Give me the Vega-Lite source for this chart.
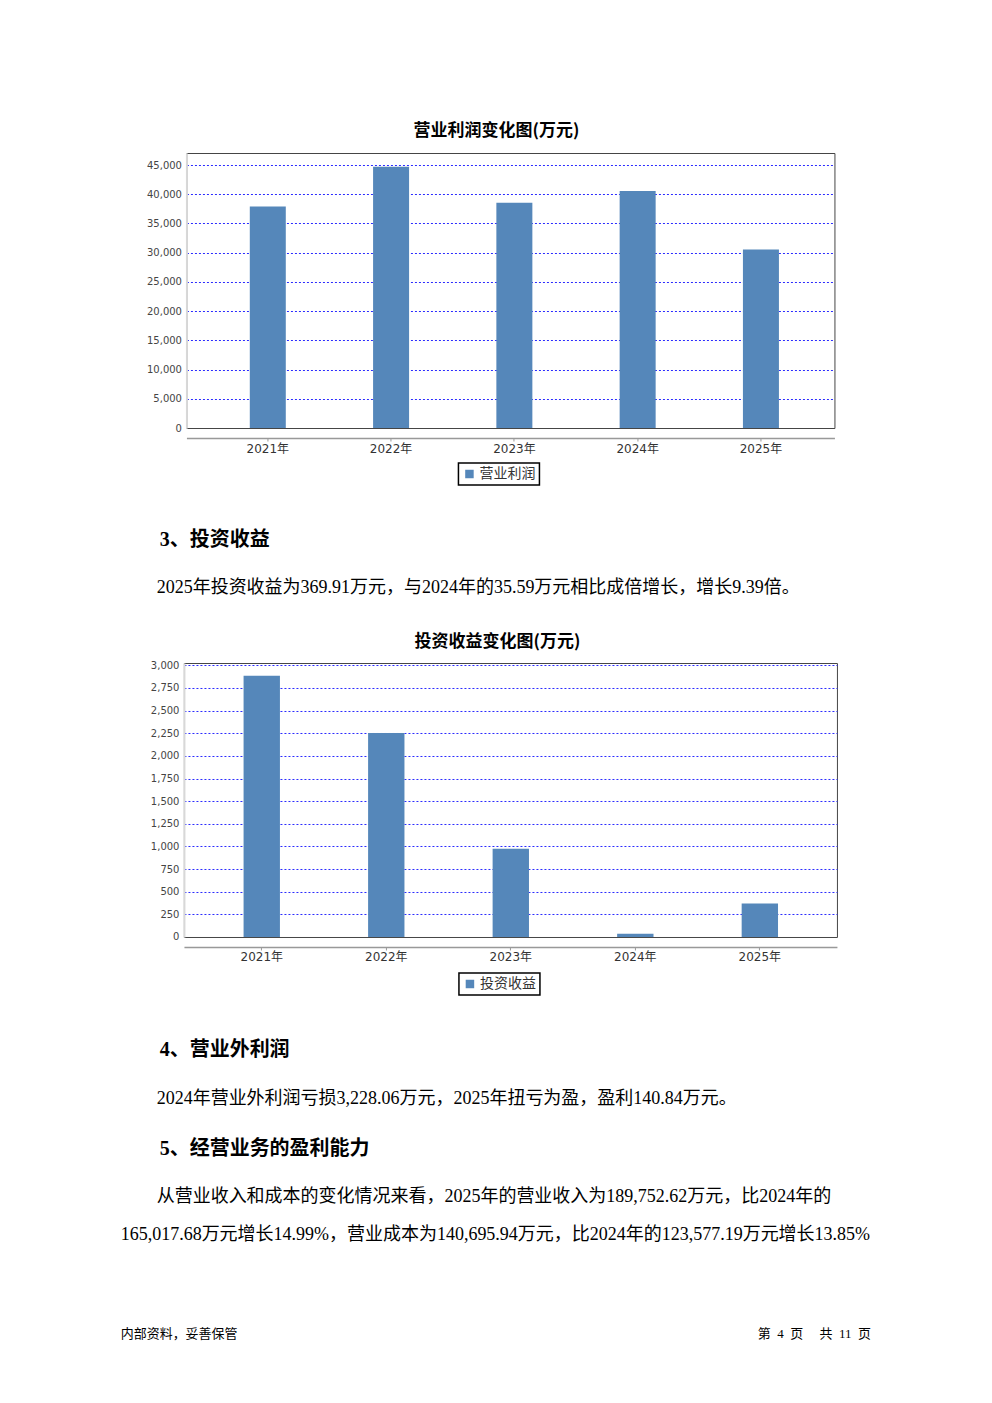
{
  "$schema": "https://vega.github.io/schema/vega-lite/v6.json",
  "background": "#ffffff",
  "padding": {"left": 120.7, "top": 121, "right": 0, "bottom": 0},
  "spacing": 0,
  "center": true,
  "bounds": "full",
  "resolve": {
    "scale": {"x": "independent", "y": "independent", "color": "independent"},
    "legend": {"color": "independent"}
  },
  "config": {
    "view": {"stroke": null},
    "legend": {
      "direction": "horizontal",
      "symbolType": "square",
      "symbolSize": 72,
      "symbolStrokeWidth": 0,
      "labelFont": "DejaVu Sans, Noto Sans CJK SC",
      "labelFontSize": 14,
      "labelColor": "#333333",
      "labelOffset": 3,
      "strokeColor": "#000000",
      "strokeWidth": 1.5,
      "fillColor": "#ffffff",
      "padding": 4
    }
  },
  "datasets": {
    "profit": [
      {"year": "2021年", "value": 37900},
      {"year": "2022年", "value": 44700},
      {"year": "2023年", "value": 38550},
      {"year": "2024年", "value": 40550},
      {"year": "2025年", "value": 30550}
    ],
    "invest": [
      {"year": "2021年", "value": 2885},
      {"year": "2022年", "value": 2254},
      {"year": "2023年", "value": 975},
      {"year": "2024年", "value": 35.59},
      {"year": "2025年", "value": 369.91}
    ],
    "p1": [
      {"line": 1, "role": "heading", "text": "3、投资收益"},
      {"line": 2, "role": "body", "text": "2025年投资收益为369.91万元，与2024年的35.59万元相比成倍增长，增长9.39倍。"}
    ],
    "p2": [
      {"line": 1, "role": "heading", "text": "4、营业外利润"},
      {"line": 2, "role": "body", "text": "2024年营业外利润亏损3,228.06万元，2025年扭亏为盈，盈利140.84万元。"},
      {"line": 3, "role": "heading", "text": "5、经营业务的盈利能力"},
      {"line": 4, "role": "body", "text": "从营业收入和成本的变化情况来看，2025年的营业收入为189,752.62万元，比2024年的"},
      {"line": 4, "role": "cont", "text": "165,017.68万元增长14.99%，营业成本为140,695.94万元，比2024年的123,577.19万元增长13.85%"}
    ],
    "footer": [
      {"role": "left", "text": "内部资料，妥善保管"},
      {"role": "right", "text": "第\u00a0\u00a04\u00a0\u00a0页\u3000\u00a0共\u00a0\u00a011\u00a0\u00a0页"}
    ]
  },
  "vconcat": [
    {
      "width": 648,
      "height": 275,
      "data": {"name": "profit"},
      "title": {"text": "营业利润变化图(万元)", "font": "Noto Sans CJK SC", "fontSize": 17, "fontWeight": "bold", "color": "#000000", "anchor": "middle", "frame": "group", "baseline": "bottom", "offset": -4, "dx": -14},
      "view": {"stroke": "#444444", "strokeWidth": 1},
      "mark": {"type": "bar", "color": "#5587ba"},
      "encoding": {
        "x": {
          "field": "year", "type": "ordinal",
          "scale": {"type": "band", "paddingInner": 0.708, "paddingOuter": 0.482, "align": 0.533},
          "axis": {"title": null, "labelAngle": 0, "offset": 10, "domainColor": "#999999", "domainWidth": 1.5, "tickColor": "#999999", "tickSize": 3, "labelPadding": 2, "labelFont": "DejaVu Sans, Noto Sans CJK SC", "labelFontSize": 12, "labelColor": "#333333", "grid": false}
        },
        "y": {
          "field": "value", "type": "quantitative",
          "scale": {"domain": [0, 47056], "nice": false},
          "axis": {"title": null, "values": [0, 5000, 10000, 15000, 20000, 25000, 30000, 35000, 40000, 45000], "format": ",d", "grid": true, "gridColor": "#2a2aff", "gridDash": [2, 2], "gridWidth": 1, "gridOpacity": {"condition": {"test": "datum.value === 0", "value": 0}, "value": 1}, "domain": true, "domainColor": "#d8d8d8", "domainWidth": 2, "ticks": false, "labelPadding": 5, "labelFont": "DejaVu Sans", "labelFontSize": 10, "labelColor": "#444444"}
        },
        "color": {
          "datum": "营业利润",
          "scale": {"range": ["#5587ba"]},
          "legend": {"title": null, "orient": "none", "legendX": 272, "legendY": 310}
        }
      }
    },
    {
      "width": 780,
      "height": 144.5,
      "view": {"stroke": null, "fill": "#ffffff"},
      "data": {"name": "p1"},
      "encoding": {
        "x": {"datum": "left", "type": "nominal", "scale": {"type": "point", "domain": ["left", "right"], "padding": 0.0198, "align": 0}, "axis": null},
        "y": {"field": "line", "type": "ordinal", "scale": {"type": "point", "domain": [1, 2], "padding": 0.98, "align": 0.4493}, "axis": null},
        "text": {"field": "text"}
      },
      "layer": [
        {"transform": [{"filter": "datum.role === 'heading'"}], "mark": {"type": "text", "align": "left", "baseline": "top", "dx": 39, "font": "Liberation Serif, Noto Sans CJK SC", "fontSize": 20, "fontWeight": "bold", "color": "#000000"}},
        {"transform": [{"filter": "datum.role === 'body'"}], "mark": {"type": "text", "align": "left", "baseline": "top", "dx": 36, "font": "Liberation Serif, Noto Sans CJK SC", "fontSize": 18, "color": "#000000"}}
      ]
    },
    {
      "width": 653,
      "height": 274,
      "data": {"name": "invest"},
      "title": {"text": "投资收益变化图(万元)", "font": "Noto Sans CJK SC", "fontSize": 17, "fontWeight": "bold", "color": "#000000", "anchor": "middle", "frame": "group", "baseline": "bottom", "offset": -8, "dx": -13},
      "view": {"stroke": "#444444", "strokeWidth": 1},
      "mark": {"type": "bar", "color": "#5587ba"},
      "encoding": {
        "x": {
          "field": "year", "type": "ordinal",
          "scale": {"type": "band", "paddingInner": 0.708, "paddingOuter": 0.476, "align": 0.503},
          "axis": {"title": null, "labelAngle": 0, "offset": 10, "domainColor": "#999999", "domainWidth": 1.5, "tickColor": "#999999", "tickSize": 3, "labelPadding": 2, "labelFont": "DejaVu Sans, Noto Sans CJK SC", "labelFontSize": 12, "labelColor": "#333333", "grid": false}
        },
        "y": {
          "field": "value", "type": "quantitative",
          "scale": {"domain": [0, 3026], "nice": false},
          "axis": {"title": null, "values": [0, 250, 500, 750, 1000, 1250, 1500, 1750, 2000, 2250, 2500, 2750, 3000], "format": ",d", "grid": true, "gridColor": "#2a2aff", "gridDash": [2, 2], "gridWidth": 1, "gridOpacity": {"condition": {"test": "datum.value === 0", "value": 0}, "value": 1}, "domain": true, "domainColor": "#d8d8d8", "domainWidth": 2, "ticks": false, "labelPadding": 5, "labelFont": "DejaVu Sans", "labelFontSize": 10, "labelColor": "#444444"}
        },
        "color": {
          "datum": "投资收益",
          "scale": {"range": ["#5587ba"]},
          "legend": {"title": null, "orient": "none", "legendX": 275, "legendY": 310}
        }
      }
    },
    {
      "width": 780,
      "height": 245.5,
      "view": {"stroke": null, "fill": "#ffffff"},
      "data": {"name": "p2"},
      "encoding": {
        "x": {"datum": "left", "type": "nominal", "scale": {"type": "point", "domain": ["left", "right"], "padding": 0.0198, "align": 0}, "axis": null},
        "y": {"field": "line", "type": "ordinal", "scale": {"type": "point", "domain": [1, 2, 3, 4], "padding": 1, "align": 0.443}, "axis": null},
        "text": {"field": "text"}
      },
      "layer": [
        {"transform": [{"filter": "datum.role === 'heading'"}], "mark": {"type": "text", "align": "left", "baseline": "top", "dx": 39, "font": "Liberation Serif, Noto Sans CJK SC", "fontSize": 20, "fontWeight": "bold", "color": "#000000"}},
        {"transform": [{"filter": "datum.role === 'body'"}], "mark": {"type": "text", "align": "left", "baseline": "top", "dx": 36, "font": "Liberation Serif, Noto Sans CJK SC", "fontSize": 18, "color": "#000000"}},
        {"transform": [{"filter": "datum.role === 'cont'"}], "mark": {"type": "text", "align": "left", "baseline": "top", "dy": 38, "font": "Liberation Serif, Noto Sans CJK SC", "fontSize": 18, "color": "#000000"}}
      ]
    },
    {
      "width": 780,
      "height": 100,
      "view": {"stroke": null, "fill": "#ffffff"},
      "data": {"name": "footer"},
      "encoding": {
        "y": {"datum": "footer", "type": "nominal", "scale": {"type": "point", "domain": ["footer"], "padding": 0.5, "align": 0.9}, "axis": null},
        "text": {"field": "text"}
      },
      "layer": [
        {
          "transform": [{"filter": "datum.role === 'left'"}],
          "mark": {"type": "text", "align": "left", "baseline": "middle", "font": "Liberation Serif, Noto Sans CJK SC", "fontSize": 13, "color": "#000000"},
          "encoding": {"x": {"datum": "left", "type": "nominal", "scale": {"type": "point", "domain": ["left", "right"], "padding": 0.0198, "align": 0}, "axis": null}}
        },
        {
          "transform": [{"filter": "datum.role === 'right'"}],
          "mark": {"type": "text", "align": "right", "baseline": "middle", "font": "Liberation Serif, Noto Sans CJK SC", "fontSize": 13, "color": "#000000"},
          "encoding": {"x": {"datum": "right", "type": "nominal", "scale": {"type": "point", "domain": ["left", "right"], "padding": 0.0198, "align": 0}, "axis": null}}
        }
      ]
    }
  ]
}
